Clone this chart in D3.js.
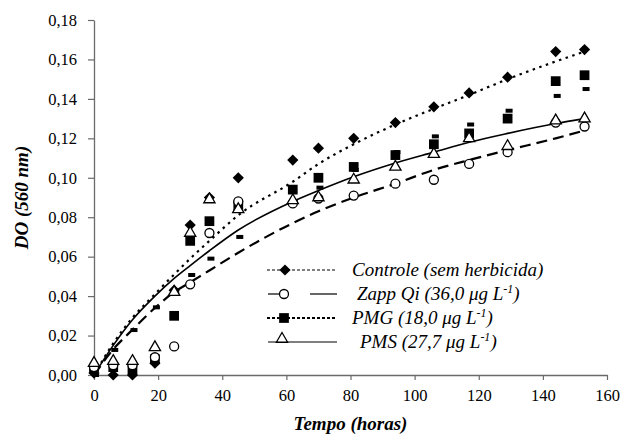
<!DOCTYPE html>
<html>
<head>
<meta charset="utf-8">
<script src="https://cdn.jsdelivr.net/npm/d3@7"></script>
<style>
  body { margin: 0; background: #fff; }
</style>
</head>
<body>
<script>
// sampling times (hours)
var times = [0, 6, 12, 19, 25, 30, 36, 45, 62, 70, 81, 94, 106, 117, 129, 144, 153];

// measured points
var controle = [0.001, 0.000, 0.000, 0.006, 0.043, 0.076, 0.090, 0.100, 0.109, 0.115, 0.120, 0.128, 0.136, 0.143, 0.151, 0.164, 0.165];
var zapp     = [0.004, 0.005, 0.005, 0.009, 0.0145, 0.046, 0.072, 0.088, 0.087, 0.0895, 0.091, 0.097, 0.099, 0.107, 0.113, 0.128, 0.126];
var pmg      = [0.003, 0.004, 0.003, 0.008, 0.030, 0.068, 0.078, 0.086, 0.094, 0.100, 0.1055, 0.1115, 0.117, 0.1225, 0.130, 0.149, 0.152];
var pms      = [0.006, 0.007, 0.007, 0.014, 0.042, 0.072, 0.089, 0.084, 0.0885, 0.090, 0.099, 0.1055, 0.112, 0.120, 0.116, 0.129, 0.130];

// fitted curves
var controleFit = [0.000, 0.016, 0.029, 0.041, 0.051, 0.059, 0.068, 0.081, 0.098, 0.107, 0.117, 0.127, 0.135, 0.142, 0.150, 0.159, 0.164];
var zappFit     = [0.000, 0.013, 0.023, 0.034, 0.042, 0.047, 0.053, 0.062, 0.077, 0.083, 0.090, 0.097, 0.104, 0.109, 0.114, 0.120, 0.124];
var pmgFit      = [0.000, 0.0127, 0.0228, 0.0343, 0.0417, 0.0507, 0.059, 0.070, 0.088, 0.095, 0.104, 0.113, 0.121, 0.127, 0.134, 0.1415, 0.145];
var pmsFit      = [0.000, 0.015, 0.028, 0.040, 0.049, 0.0555, 0.063, 0.0735, 0.088, 0.0935, 0.1005, 0.1075, 0.113, 0.118, 0.1225, 0.1275, 0.130];

var xTicks = [0, 20, 40, 60, 80, 100, 120, 140, 160];
var yTicks = [0, 0.02, 0.04, 0.06, 0.08, 0.10, 0.12, 0.14, 0.16, 0.18];

var legendLabels = ["Controle (sem herbicida)", "Zapp Qi (36,0 μg L", "PMG (18,0 μg L", "PMS (27,7 μg L"];

var FONT = "Liberation Serif";

var W = 621, H = 443;
var margin = {top: 20, right: 14, bottom: 68, left: 94};
var width = W - margin.left - margin.right,
    height = H - margin.top - margin.bottom;

var x = d3.scaleLinear().domain([0, 160]).range([0, width]);
var y = d3.scaleLinear().domain([0, 0.18]).range([height, 0]);

var root = d3.select("body").append("svg")
    .attr("width", W)
    .attr("height", H);
var svg = root.append("g")
    .attr("transform", "translate(" + margin.left + "," + margin.top + ")");

// axes
var fmt = function(d) { return d3.format(".2f")(d).replace(".", ","); };

var xAxis = svg.append("g")
    .attr("transform", "translate(0," + height + ")")
    .call(d3.axisBottom(x).tickValues(xTicks).tickSize(5).tickPadding(9).tickSizeOuter(0));
var yAxis = svg.append("g")
    .call(d3.axisLeft(y).tickValues(yTicks).tickFormat(fmt).tickSize(6).tickPadding(11).tickSizeOuter(0));

[xAxis, yAxis].forEach(function(a) {
  a.select(".domain").attr("stroke", "#6a6a6a").attr("stroke-width", 1.3);
  a.selectAll(".tick line").attr("stroke", "#6a6a6a").attr("stroke-width", 1.2);
  a.selectAll(".tick text")
    .attr("fill", "#000")
    .attr("font-family", FONT)
    .attr("font-size", 16.5);
});

svg.append("text")
    .attr("x", width / 2)
    .attr("y", height + 55)
    .attr("text-anchor", "middle")
    .attr("font-family", FONT)
    .attr("font-size", 19)
    .attr("font-weight", "bold")
    .attr("font-style", "italic")
    .text("Tempo (horas)");

svg.append("text")
    .attr("transform", "translate(-66," + (height / 2) + ") rotate(-90)")
    .attr("text-anchor", "middle")
    .attr("font-family", FONT)
    .attr("font-size", 19)
    .attr("font-weight", "bold")
    .attr("font-style", "italic")
    .text("DO (560 nm)");

// fitted lines
function lineOf(vals) {
  return d3.line()
    .x(function(d, i) { return x(times[i]); })
    .y(function(d) { return y(d); })
    .curve(d3.curveMonotoneX)(vals);
}

svg.append("path").attr("d", lineOf(controleFit))
    .attr("fill", "none").attr("stroke", "#000").attr("stroke-width", 2.2)
    .attr("stroke-dasharray", "2.5,4.5");
svg.append("path").attr("d", lineOf(zappFit))
    .attr("fill", "none").attr("stroke", "#000").attr("stroke-width", 2.2)
    .attr("stroke-dasharray", "11,6");
svg.append("path").attr("d", lineOf(pmsFit))
    .attr("fill", "none").attr("stroke", "#000").attr("stroke-width", 1.6);

// PMG fit shown as short dash markers
svg.selectAll(".pmgfit")
    .data(pmgFit)
  .enter().append("rect")
    .attr("class", "pmgfit")
    .attr("x", function(d, i) { return x(times[i]) - 2; })
    .attr("y", function(d) { return y(d) - 2; })
    .attr("width", 7)
    .attr("height", 4)
    .attr("fill", "#000");

// markers
function sym(type, size) { return d3.symbol().type(type).size(size)(); }

svg.selectAll(".sq")
    .data(pmg)
  .enter().append("path")
    .attr("class", "sq")
    .attr("d", sym(d3.symbolSquare, 95))
    .attr("transform", function(d, i) { return "translate(" + x(times[i]) + "," + y(d) + ")"; })
    .attr("fill", "#000");

svg.selectAll(".dia")
    .data(controle)
  .enter().append("path")
    .attr("class", "dia")
    .attr("d", sym(d3.symbolDiamond2, 80))
    .attr("transform", function(d, i) { return "translate(" + x(times[i]) + "," + y(d) + ")"; })
    .attr("fill", "#000");

svg.selectAll(".circ")
    .data(zapp)
  .enter().append("circle")
    .attr("class", "circ")
    .attr("cx", function(d, i) { return x(times[i]); })
    .attr("cy", function(d) { return y(d); })
    .attr("r", 4.5)
    .attr("fill", "#fff").attr("stroke", "#000").attr("stroke-width", 1.3);

svg.selectAll(".tri")
    .data(pms)
  .enter().append("path")
    .attr("class", "tri")
    .attr("d", sym(d3.symbolTriangle, 55))
    .attr("transform", function(d, i) { return "translate(" + x(times[i]) + "," + y(d) + ")"; })
    .attr("fill", "#fff").attr("stroke", "#000").attr("stroke-width", 1.3);

// legend
var leg = root.append("g");
var rows = [270, 294, 318, 342];

leg.append("line").attr("x1", 267).attr("x2", 337).attr("y1", rows[0]).attr("y2", rows[0])
    .attr("stroke", "#000").attr("stroke-width", 1.2).attr("stroke-dasharray", "3,2");
leg.append("path").attr("d", sym(d3.symbolDiamond2, 80))
    .attr("transform", "translate(285," + rows[0] + ")").attr("fill", "#000");

leg.append("line").attr("x1", 268).attr("x2", 280).attr("y1", rows[1]).attr("y2", rows[1])
    .attr("stroke", "#000").attr("stroke-width", 1.2);
leg.append("line").attr("x1", 310).attr("x2", 337).attr("y1", rows[1]).attr("y2", rows[1])
    .attr("stroke", "#000").attr("stroke-width", 1.2);
leg.append("circle").attr("cx", 284).attr("cy", rows[1]).attr("r", 4.5)
    .attr("fill", "#fff").attr("stroke", "#000").attr("stroke-width", 1.3);

leg.append("line").attr("x1", 267).attr("x2", 337).attr("y1", rows[2]).attr("y2", rows[2])
    .attr("stroke", "#000").attr("stroke-width", 2.2).attr("stroke-dasharray", "3,2");
leg.append("path").attr("d", sym(d3.symbolSquare, 95))
    .attr("transform", "translate(284," + rows[2] + ")").attr("fill", "#000");

leg.append("line").attr("x1", 268).attr("x2", 337).attr("y1", rows[3]).attr("y2", rows[3])
    .attr("stroke", "#000").attr("stroke-width", 1.2);
leg.append("path").attr("d", sym(d3.symbolTriangle, 55))
    .attr("transform", "translate(282," + (rows[3] - 3) + ")")
    .attr("fill", "#fff").attr("stroke", "#000").attr("stroke-width", 1.3);

var textX = [352, 357, 352, 360];
legendLabels.forEach(function(lbl, i) {
  var t = leg.append("text")
      .attr("x", textX[i])
      .attr("y", rows[i] + 6)
      .attr("font-family", FONT)
      .attr("font-size", 19)
      .attr("font-style", "italic")
      .text(lbl);
  if (i > 0) {
    t.append("tspan").attr("dy", -7).attr("font-size", 12).text("-1");
    t.append("tspan").attr("dy", 7).text(")");
  }
});
</script>
</body>
</html>
